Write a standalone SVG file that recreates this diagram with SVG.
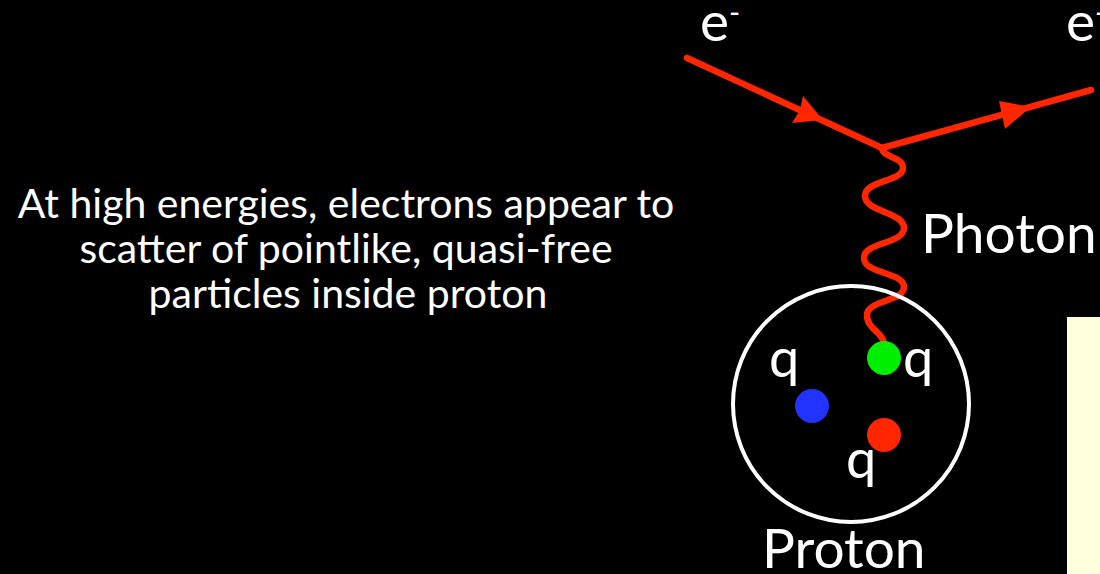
<svg xmlns="http://www.w3.org/2000/svg" width="1100" height="574" viewBox="0 0 1100 574">
<style>
.lbl{font-family:Lato,"Open Sans","Liberation Sans",sans-serif;fill:#ffffff}
.big{font-size:55px}
.q{font-size:54px}
.desc{font-size:41px;text-anchor:middle}
.fermion{stroke:#ff2600;stroke-width:6.5;fill:none;stroke-linecap:round}
.arrow{fill:#ff2600}
</style>
<rect x="0" y="0" width="1100" height="574" fill="#000000"/>
<g id="description">
<text class="lbl desc" x="346" y="218">At high energies, electrons appear to</text>
<text class="lbl desc" x="346" y="263">scatter of pointlike, quasi-free</text>
<text class="lbl desc" x="348" y="308">particles inside proton</text>
</g>
<g id="yellow-box"><rect x="1067" y="317" width="40" height="260" fill="#ffffdc"/></g>
<g id="connectors">
<line class="fermion" x1="687" y1="58" x2="882" y2="148"/>
<polygon class="arrow" points="823,120 792,123 800,110 803,96"/>
<line class="fermion" x1="882" y1="148" x2="1091" y2="90"/>
<polygon class="arrow" points="1031,107 1005,129 1002,115 999,101"/>
<path id="photon" class="fermion" d="M882,148 C882,158 903,156 903,168 C903,182 865,180 865,196 C865,212 904,212 904,228 C904,244 864,242 864,258 C864,274 904,272 904,287 C904,302 867,300 867,315 C867,330 884,332 884,345"/>
</g>
<g id="electron-in"><text class="lbl big" x="700" y="41">e<tspan font-size="30" dy="-18">-</tspan></text></g>
<g id="electron-out"><text class="lbl big" x="1066" y="41">e<tspan font-size="30" dy="-18">-</tspan></text></g>
<g id="photon-label"><text class="lbl big" x="921" y="253">Photon</text></g>
<g id="proton">
<circle cx="851" cy="404" r="118" fill="none" stroke="#ffffff" stroke-width="4"/>
<text class="lbl big" x="762" y="568">Proton</text>
</g>
<g id="quark-green"><circle cx="884" cy="358" r="17" fill="#00ee00"/><text class="lbl q" x="903" y="377">q</text></g>
<g id="quark-blue"><circle cx="812" cy="406" r="17" fill="#2233ff"/><text class="lbl q" x="769" y="377">q</text></g>
<g id="quark-red"><circle cx="884" cy="435" r="17" fill="#ff2600"/><text class="lbl q" x="846" y="478">q</text></g>
</svg>
